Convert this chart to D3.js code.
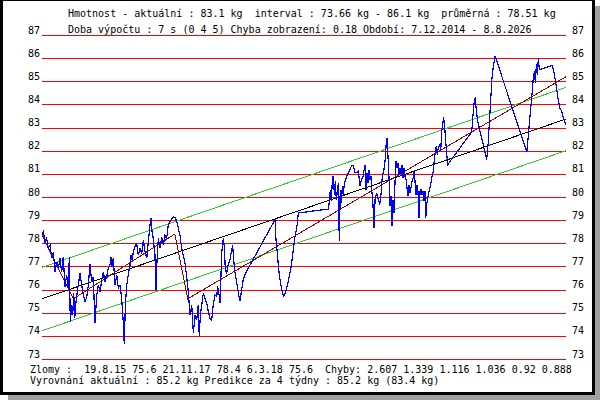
<!DOCTYPE html>
<html>
<head>
<meta charset="utf-8">
<script src="https://cdn.jsdelivr.net/npm/d3@7/dist/d3.min.js"></script>
<style>
  body { margin: 0; background: #fff; }
  svg text { font-family: "DejaVu Sans Mono", "Liberation Mono", monospace; font-size: 10px; white-space: pre; fill: #000; }
</style>
</head>
<body>
<div id="chart"></div>
<script>
/* global d3 */

// first and last day of the period (Období)
var startDay = "2014-12-07",
    endDay = "2026-08-08";

// day of each weighing, counted from startDay
var dayNo = [0, 11, 24, 38, 51, 65, 79, 92, 106, 120, 133, 146, 160, 173, 187, 201, 214, 222, 230, 242,
  250, 258, 266, 277, 287, 299, 309, 323, 336, 350, 364, 377, 390, 404, 417, 431, 445, 458, 472, 486,
  499, 512, 526, 539, 553, 561, 569, 580, 594, 608, 621, 634, 648, 661, 669, 678, 689, 702, 716, 724,
  732, 743, 756, 770, 783, 797, 811, 824, 838, 852, 865, 878, 887, 895, 905, 919, 927, 935, 946, 960,
  974, 987, 1000, 1014, 1027, 1041, 1055, 1068, 1082, 1096, 1109, 1122, 1136, 1149, 1163, 1177, 1190, 1204, 1218, 1231,
  1244, 1258, 1271, 1279, 1288, 1299, 1312, 1326, 1340, 1353, 1366, 1380, 1393, 1407, 1421, 1429, 1440, 1448, 1462, 1475,
  1483, 1491, 1502, 1515, 1529, 1543, 1551, 1559, 1570, 1584, 1597, 1611, 1624, 1637, 1657, 1895, 1903, 1914, 1925, 1938,
  1950, 1963, 1977, 1990, 2003, 2017, 2031, 2044, 2058, 2072, 2085, 2329, 2337, 2345, 2353, 2361, 2369, 2378, 2386, 2394,
  2402, 2410, 2418, 2426, 2435, 2443, 2451, 2459, 2478, 2497, 2519, 2532, 2546, 2560, 2573, 2587, 2600, 2613, 2627, 2635,
  2644, 2652, 2660, 2668, 2676, 2684, 2692, 2701, 2709, 2722, 2735, 2747, 2757, 2768, 2779, 2790, 2798, 2806, 2814, 2822,
  2831, 2839, 2847, 2855, 2863, 2871, 2879, 2888, 2896, 2904, 2912, 2920, 2928, 2936, 2945, 2953, 2961, 2969, 2977, 2985,
  2993, 3001, 3010, 3018, 3026, 3034, 3042, 3050, 3058, 3067, 3075, 3083, 3091, 3099, 3107, 3115, 3121, 3129, 3142, 3156,
  3170, 3183, 3191, 3199, 3207, 3215, 3223, 3235, 3243, 3251, 3259, 3267, 3276, 3284, 3292, 3300, 3495, 3508, 3516, 3524,
  3533, 3544, 3617, 3628, 3636, 3644, 3652, 3660, 3671, 3685, 3943, 3956, 3969, 3983, 3996, 4004, 4013, 4021, 4029, 4037,
  4045, 4151, 4165, 4181, 4197, 4213, 4227, 4240, 4256, 4262];

// weight in kg for each weighing
var weight = [78.35, 78.50, 78.06, 78.21, 77.78, 77.92, 77.35, 77.63, 76.77, 77.20, 76.91, 77.35, 76.77, 77.42, 76.12, 76.63, 76.05, 77.42, 74.61, 75.33,
  74.90, 75.83, 74.76, 75.47, 75.91, 76.34, 76.70, 76.19, 75.76, 75.47, 75.69, 76.19, 77.09, 76.34, 76.55, 74.54, 75.76, 76.19, 75.91, 76.41,
  76.77, 76.34, 76.55, 76.91, 77.06, 77.42, 76.99, 77.35, 76.19, 76.63, 76.05, 76.19, 75.62, 74.61, 73.66, 75.33, 76.19, 76.63, 77.06, 77.49,
  77.27, 77.63, 77.85, 77.99, 77.49, 77.78, 77.56, 78.14, 77.63, 77.35, 78.06, 78.78, 79.07, 78.50, 78.21, 77.49, 75.98, 77.20, 78.21, 77.78,
  78.28, 77.92, 78.35, 78.21, 78.78, 78.93, 79.07, 79.14, 79.10, 78.96, 78.64, 78.35, 77.78, 77.49, 77.13, 76.55, 75.91, 74.90, 75.33, 74.11,
  74.90, 74.68, 75.33, 74.01, 74.90, 75.33, 75.83, 75.62, 75.40, 75.04, 74.76, 74.68, 75.33, 75.76, 75.69, 76.14, 75.78, 75.42, 77.58, 78.23,
  77.87, 76.86, 76.72, 77.08, 77.29, 77.73, 77.90, 77.29, 76.72, 76.29, 75.86, 75.50, 76.00, 76.43, 76.72, 79.02, 78.16, 77.58, 76.86, 76.36,
  76.00, 75.71, 75.83, 76.07, 76.36, 76.72, 77.15, 77.73, 78.30, 78.66, 79.31, 79.48, 79.81, 80.32, 79.81, 80.68, 80.92, 80.10, 80.68, 79.88,
  80.24, 80.60, 78.09, 80.32, 79.74, 80.46, 80.10, 80.60, 80.89, 81.11, 81.35, 81.35, 81.06, 81.04, 81.11, 80.46, 80.78, 80.92, 81.40, 80.32,
  81.04, 80.60, 81.18, 80.75, 80.89, 80.17, 79.67, 78.66, 79.88, 80.17, 79.91, 79.67, 80.10, 80.89, 81.11, 81.54, 82.19, 82.55, 81.76, 80.89,
  79.60, 80.03, 78.73, 79.88, 79.31, 80.60, 81.54, 81.25, 81.47, 80.96, 81.25, 81.04, 81.40, 80.82, 81.25, 80.89, 80.75, 80.39, 80.03, 80.53,
  80.17, 80.39, 80.68, 80.82, 81.11, 80.68, 80.10, 80.53, 80.24, 79.09, 80.24, 80.32, 80.10, 80.24, 79.81, 80.24, 79.09, 79.67, 80.10, 80.39,
  80.82, 81.11, 81.61, 81.97, 82.19, 81.83, 82.12, 82.26, 81.97, 82.83, 83.12, 83.44, 82.98, 82.40, 81.83, 81.40, 82.81, 83.70, 84.13, 84.30,
  83.70, 83.27, 81.61, 82.26, 82.98, 83.70, 84.42, 85.14, 85.64, 86.10, 81.94, 82.69, 83.48, 84.27, 85.14, 85.42, 84.92, 85.74, 85.28, 86.00,
  85.50, 85.68, 85.35, 84.85, 84.27, 83.84, 83.70, 83.44, 83.20, 83.10];

// linear trend (black) and its band (green), at start and end of the period
var trendKg = [75.60, 83.37];
var bandUpKg = [76.96, 84.74];
var bandDownKg = [74.22, 82.00];

// piecewise trend (dark red): start, breaks (Zlomy), end
var breakDays = ["2014-12-07", "2015-08-19", "2017-11-21", "2018-03-06", "2026-08-08"];
var breakKg = [78.35, 75.6, 78.4, 75.6, 85.2];

// y tick values
var kgTicks = [73, 74, 75, 76, 77, 78, 79, 80, 81, 82, 83, 84, 85, 86, 87];

var headLines = [
  "Hmotnost - aktuální : 83.1 kg  interval : 73.66 kg - 86.1 kg  průměrná : 78.51 kg",
  "Doba výpočtu : 7 s (0 4 5) Chyba zobrazení: 0.18 Období: 7.12.2014 - 8.8.2026"
];
var footLines = [
  "Zlomy :  19.8.15 75.6 21.11.17 78.4 6.3.18 75.6  Chyby: 2.607 1.339 1.116 1.036 0.92 0.888",
  "Vyrovnání aktuální : 85.2 kg Predikce za 4 týdny : 85.2 kg (83.4 kg)"
];

var parseDay = d3.timeParse("%Y-%m-%d");
var day0 = parseDay(startDay);

var points = dayNo.map(function(d, i) {
  return {date: d3.timeDay.offset(day0, d), kg: weight[i]};
});

let cfg = {
  w: 600,
  h: 400,
  left: 42,
  right: 566,
  top: 35,
  bottom: 359,
  gridColor: "#ff0000",
  dataColor: "#0000ff",
  trendColor: "#000000",
  bandColor: "#33cc33",
  breakColor: "#990000"
};

var x = d3.scaleTime()
  .domain([day0, parseDay(endDay)])
  .range([cfg.left, cfg.right]);

var y = d3.scaleLinear()
  .domain([73, 87])
  .range([cfg.bottom, cfg.top]);

let svg = d3.select("#chart").append("svg")
  .attr("width", cfg.w)
  .attr("height", cfg.h);

// frame with a grey shadow
svg.append("rect").attr("x", 8).attr("y", 6).attr("width", 592).attr("height", 394).style("fill", "#a0a0a0");
svg.append("rect").attr("x", 0).attr("y", -2).attr("width", 595).attr("height", 397).style("fill", "#000");
svg.append("rect").attr("x", 3).attr("y", 1).attr("width", 589).attr("height", 391).style("fill", "#fff");

// horizontal grid + labels on both sides
let leftAxis = svg.append("g")
  .attr("transform", "translate(" + cfg.left + ",0)")
  .call(d3.axisLeft(y).tickValues(kgTicks).tickFormat(d3.format("d"))
    .tickSize(-(cfg.right - cfg.left)).tickPadding(2));
leftAxis.select(".domain").remove();
leftAxis.selectAll("line")
  .style("stroke", cfg.gridColor)
  .style("shape-rendering", "crispEdges");
leftAxis.selectAll("text").attr("dy", -2).style("font-size", "10px").style("font-family", null);

let rightAxis = svg.append("g")
  .attr("transform", "translate(" + cfg.right + ",0)")
  .call(d3.axisRight(y).tickValues(kgTicks).tickFormat(d3.format("d"))
    .tickSize(0).tickPadding(6));
rightAxis.select(".domain").remove();
rightAxis.selectAll("text").attr("dy", -2).style("font-size", "10px").style("font-family", null);

// straight lines between two dates
var twoEnds = [day0, parseDay(endDay)];
function endLine(vals) {
  return vals.map(function(v, i) { return {date: twoEnds[i], kg: v}; });
}

var line = d3.line()
  .x(function(d) { return x(d.date); })
  .y(function(d) { return y(d.kg); });

var plot = svg.append("g").attr("class", "plot");

[bandUpKg, bandDownKg].forEach(function(b) {
  plot.append("path")
    .attr("d", line(endLine(b)))
    .style("fill", "none")
    .style("stroke", cfg.bandColor)
    .style("stroke-width", 1)
    .style("shape-rendering", "crispEdges");
});

plot.append("path")
  .attr("d", line(endLine(trendKg)))
  .style("fill", "none")
  .style("stroke", cfg.trendColor)
  .style("stroke-width", 1)
  .style("shape-rendering", "crispEdges");

plot.append("path")
  .attr("d", line(breakDays.map(function(d, i) { return {date: parseDay(d), kg: breakKg[i]}; })))
  .style("fill", "none")
  .style("stroke", cfg.breakColor)
  .style("stroke-width", 1)
  .style("shape-rendering", "crispEdges");

plot.append("path")
  .attr("d", line(points))
  .style("fill", "none")
  .style("stroke", cfg.dataColor)
  .style("stroke-width", 1.2)
  .style("shape-rendering", "crispEdges");

// text rows above and below
svg.selectAll(".head").data(headLines).enter().append("text")
  .attr("class", "head")
  .attr("x", 68)
  .attr("y", function(d, i) { return 17 + i * 16; })
  .text(function(d) { return d; });

svg.selectAll(".foot").data(footLines).enter().append("text")
  .attr("class", "foot")
  .attr("x", 30)
  .attr("y", function(d, i) { return 373 + i * 11; })
  .text(function(d) { return d; });
</script>
</body>
</html>
